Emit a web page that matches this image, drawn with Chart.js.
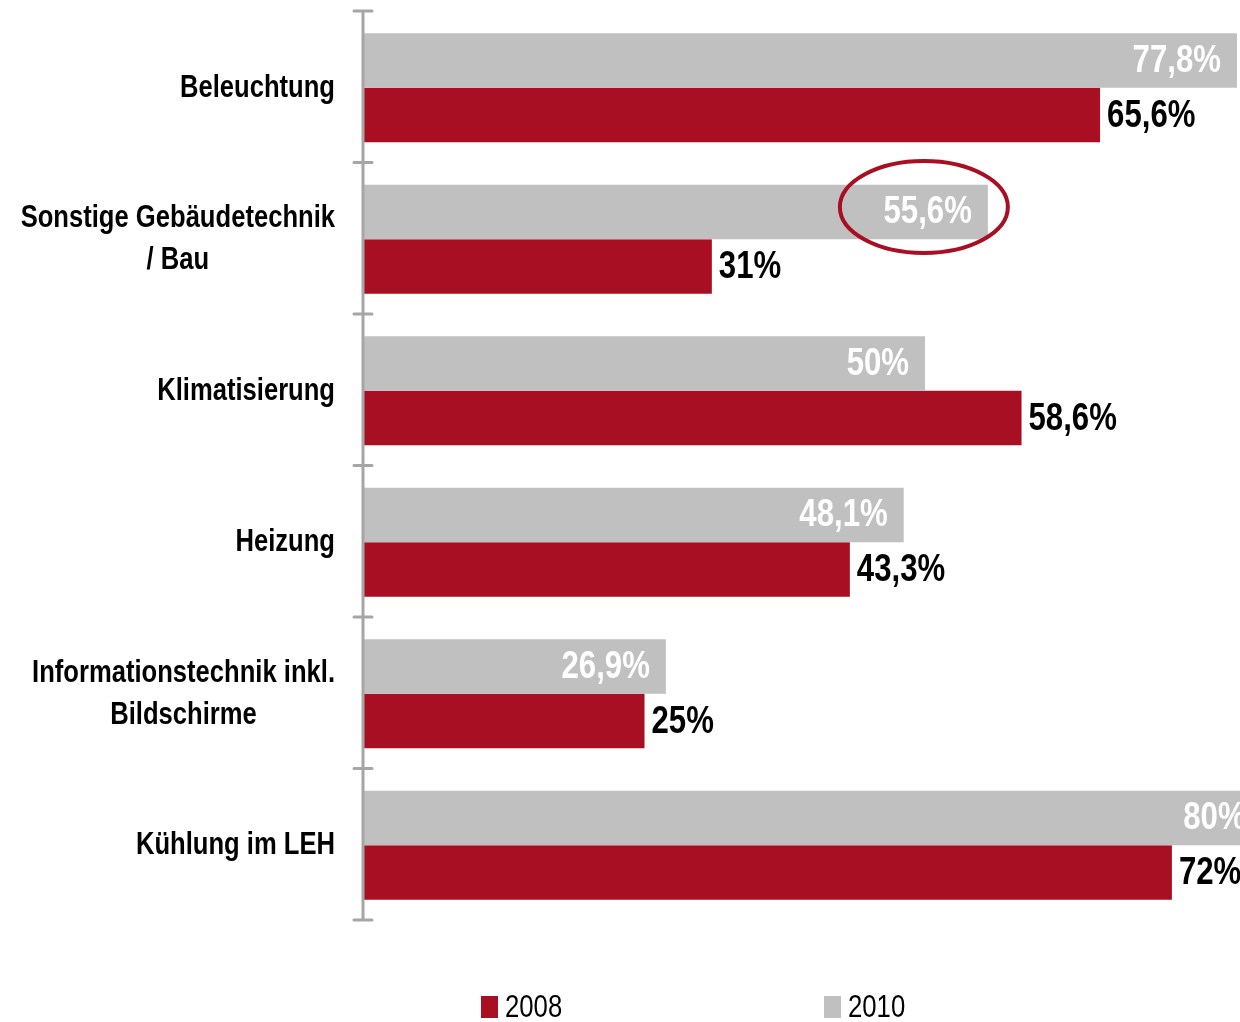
<!DOCTYPE html>
<html>
<head>
<meta charset="UTF-8">
<style>
body {
	margin: 0;
	background: white;
}
#wrap {
	width: 1240px;
	height: 1022px;
}
</style>
<title>Bars</title>
<script src="https://cdn.jsdelivr.net/npm/chart.js"></script>
</head>
<body>
	<div id="wrap"><canvas id="myChart" width="1240" height="1022"></canvas></div>

	<script>
		var categories = [ ["Beleuchtung"], ["Sonstige Gebäudetechnik", "/ Bau"], ["Klimatisierung"], ["Heizung"], ["Informationstechnik inkl.", "Bildschirme"], ["Kühlung im LEH"] ];
		var v2010 = [ 77.8, 55.6, 50, 48.1, 26.9, 80 ];
		var v2008 = [ 65.6, 31, 58.6, 43.3, 25, 72 ];
		var lbl2010 = [ "77,8%", "55,6%", "50%", "48,1%", "26,9%", "80%" ];
		var lbl2008 = [ "65,6%", "31%", "58,6%", "43,3%", "25%", "72%" ];
		var seriesNames = [ "2008", "2010" ];

		var RED = "#a80f22";
		var GREY = "#c0c0c0";
		var AXIS = "#a6a6a6";
		var FONT = "'Liberation Sans', Arial, sans-serif";
		var NARROW = 0.8; // squeeze to look like Arial Narrow

		// draws squeezed text, align relative to x
		function narrowText(ctx, txt, x, y, align, sx) {
			ctx.save();
			ctx.translate(x, y);
			ctx.scale(sx || NARROW, 1);
			ctx.textAlign = align;
			ctx.fillText(txt, 0, 0);
			ctx.restore();
		}

		var drawExtras = {
			id : "drawExtras",
			afterDatasetsDraw : function(chart) {
				var ctx = chart.ctx;
				var xs = chart.scales.x;
				var ys = chart.scales.y;
				var area = chart.chartArea;
				var step = (ys.getPixelForValue(1) - ys.getPixelForValue(0));

				// axis + ticks
				ctx.save();
				ctx.strokeStyle = AXIS;
				ctx.lineWidth = 3;
				ctx.lineCap = "round";
				ctx.beginPath();
				ctx.moveTo(area.left - 1, area.top - 1);
				ctx.lineTo(area.left - 1, area.bottom - 1);
				for (var i = 0; i <= categories.length; i++) {
					var ty = ys.getPixelForValue(i) - step / 2 - 1;
					ctx.moveTo(area.left - 10, ty);
					ctx.lineTo(area.left + 8, ty);
				}
				ctx.stroke();
				ctx.restore();

				// category labels, block right aligned, lines centred
				ctx.save();
				ctx.font = "bold 32px " + FONT;
				ctx.fillStyle = "#000";
				ctx.textBaseline = "middle";
				for (var c = 0; c < categories.length; c++) {
					var lines = categories[c];
					var w = 0;
					for (var l = 0; l < lines.length; l++) {
						w = Math.max(w, ctx.measureText(lines[l]).width * NARROW);
					}
					var cx = area.left - 29 - w / 2;
					var cy = ys.getPixelForValue(c);
					for (var l = 0; l < lines.length; l++) {
						narrowText(ctx, lines[l], cx, cy + (l - (lines.length - 1) / 2) * 42, "center");
					}
				}
				ctx.restore();

				// value labels
				ctx.save();
				ctx.font = "bold 38px " + FONT;
				ctx.textBaseline = "middle";
				var m2010 = chart.getDatasetMeta(0);
				var m2008 = chart.getDatasetMeta(1);
				for (var k = 0; k < categories.length; k++) {
					var b = m2010.data[k];
					ctx.fillStyle = "#fff";
					narrowText(ctx, lbl2010[k], xs.getPixelForValue(v2010[k]) - 16, b.y + 1, "right", 0.82);

					var r = m2008.data[k];
					ctx.fillStyle = "#000";
					narrowText(ctx, lbl2008[k], xs.getPixelForValue(v2008[k]) + 7, r.y + 1, "left", 0.82);
				}
				ctx.restore();

				// highlight ellipse around 55,6%
				ctx.save();
				var eb = m2010.data[1];
				var ex = xs.getPixelForValue(v2010[1]) - 64;
				ctx.strokeStyle = RED;
				ctx.lineWidth = 4;
				ctx.beginPath();
				ctx.ellipse(ex, eb.y - 5, 84, 46, 0, 0, Math.PI * 2);
				ctx.stroke();
				ctx.restore();

				// legend
				ctx.save();
				ctx.font = "31px " + FONT;
				ctx.textBaseline = "middle";
				var lx = [ 481, 824 ];
				var cols = [ RED, GREY ];
				for (var s = 0; s < 2; s++) {
					ctx.fillStyle = cols[s];
					ctx.fillRect(lx[s], 996, 17, 22);
					ctx.fillStyle = "#000";
					narrowText(ctx, seriesNames[s], lx[s] + 24, 1008, "left", 0.83);
				}
				ctx.restore();
			}
		};

		var ctx = document.getElementById("myChart");
		var myChart = new Chart(ctx, {
			type : "bar",
			data : {
				labels : categories,
				datasets : [ {
					label : seriesNames[1],
					data : v2010,
					backgroundColor : GREY
				}, {
					label : seriesNames[0],
					data : v2008,
					backgroundColor : RED
				} ]
			},
			options : {
				indexAxis : "y",
				responsive : false,
				animation : false,
				events : [],
				datasets : {
					bar : {
						categoryPercentage : 0.72,
						barPercentage : 1
					}
				},
				layout : {
					padding : {
						top : 12,
						bottom : 101,
						left : 0,
						right : 0
					}
				},
				plugins : {
					legend : {
						display : false
					},
					tooltip : {
						enabled : false
					}
				},
				scales : {
					x : {
						display : false,
						min : 0,
						max : 78.07
					},
					y : {
						display : true,
						ticks : {
							display : false
						},
						grid : {
							display : false
						},
						border : {
							display : false
						},
						afterFit : function(scale) {
							scale.width = 364;
						}
					}
				}
			},
			plugins : [ drawExtras ]
		});
	</script>
</body>
</html>
